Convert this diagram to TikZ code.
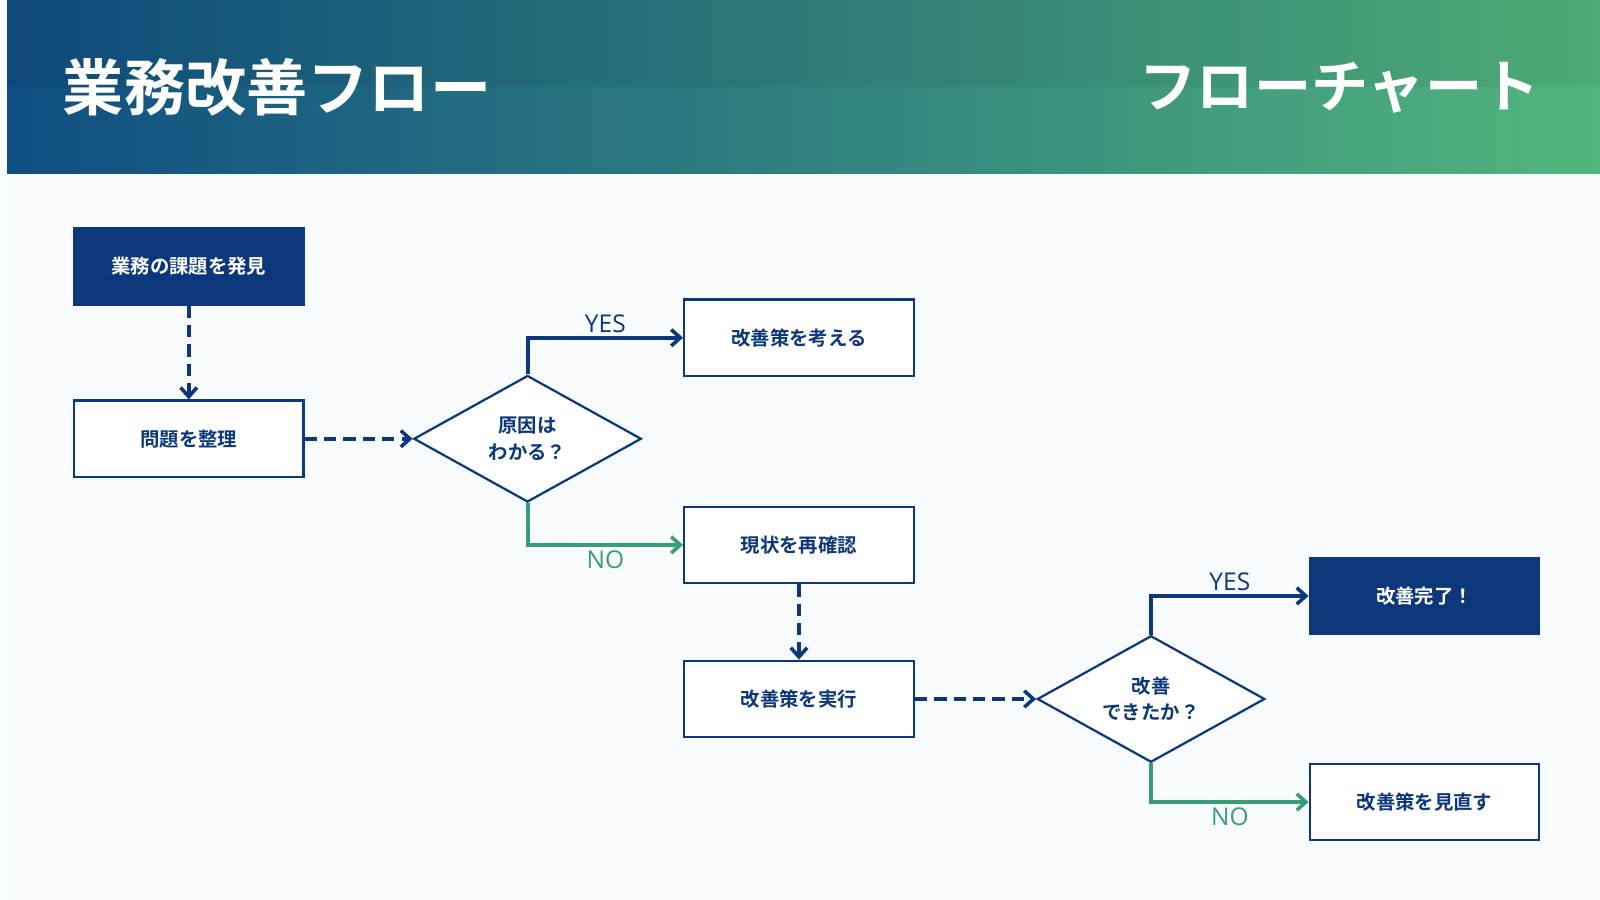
\documentclass[tikz,border=0pt]{standalone}
\usepackage{fontspec}
\setmainfont{Noto Sans CJK JP}[BoldFont={* Bold}]
\newfontfamily\lat{Open Sans}
\usetikzlibrary{arrows.meta}
\usetikzlibrary{positioning}
\usetikzlibrary{shapes.geometric}
\definecolor{navy}{HTML}{0C387B}
\definecolor{teal}{HTML}{3A9C76}
\definecolor{paper}{HTML}{F8FBFE}
\definecolor{hleft}{HTML}{0F4E82}
\definecolor{hright}{HTML}{52B57C}

\begin{document}
\begin{tikzpicture}[x=1pt, y=-1pt, node distance=150pt,
    box/.style={draw=navy, line width=2.2pt, fill=white, rectangle, minimum width=225pt, minimum height=75pt, font=\fontsize{19}{22}\selectfont\bfseries, text=navy},
    dark/.style={box, fill=navy, text=white},
    decide/.style={draw=navy, line width=2.2pt, fill=white, diamond, aspect=1.8, minimum width=223pt, minimum height=124pt, inner sep=0pt, align=center, font=\fontsize{19}{26}\selectfont\bfseries, text=navy},
    flow/.style={navy, line width=4pt, dash pattern=on 12pt off 7pt, -{Straight Barb[length=9pt,width=16pt,line width=3.5pt]}},
    yes/.style={navy, line width=4pt, -{Straight Barb[length=9pt,width=16pt,line width=3.5pt]}},
    no/.style={teal, line width=4pt, -{Straight Barb[length=9pt,width=16pt,line width=3.5pt]}},
    tag/.style={font=\lat\fontsize{24}{26}\selectfont}]

    % Background and header
    \useasboundingbox (0,0) rectangle (1568,882);
    \fill[white] (0,0) rectangle (1568,882);
    \fill[paper] (7,170) rectangle (1568,882);
    \shade[left color=hleft, right color=hright] (7,0) rectangle (1568,170);
    \fill[black, opacity=0.05] (7,0) rectangle (1568,85);
    \node[anchor=west, text=white, font=\fontsize{60}{64}\selectfont\bfseries] (title) at (58,86) {業務改善フロー};
    \node[anchor=east, text=white, font=\fontsize{56}{60}\selectfont\bfseries] (subtitle) at (1512,86) {フローチャート};

    % Nodes
    \node[dark] (find) at (185,261) {業務の課題を発見};
    \node[box, below of=find, node distance=169pt] (sort) {問題を整理};
    \node[decide, right of=sort, node distance=332pt] (cause) {原因は\\わかる？};
    \node[box] (think) at (783,331) {改善策を考える};
    \node[box] (check) at (783,534) {現状を再確認};
    \node[box, below of=check, node distance=151pt] (run) {改善策を実行};
    \node[decide, right of=run, node distance=345pt] (done) {改善\\できたか？};
    \node[dark] (finish) at (1396,584) {改善完了！};
    \node[box] (review) at (1396,786) {改善策を見直す};

    % Connections
    \draw[flow] (find) -- (sort);
    \draw[flow] (sort) -- (cause);
    \draw[yes] (cause.north) |- (think.west) node[pos=0.75, above, tag, text=navy] {YES};
    \draw[no] (cause.south) |- (check.west) node[pos=0.75, below, tag, text=teal] {NO};
    \draw[flow] (check) -- (run);
    \draw[flow] (run) -- (done);
    \draw[yes] (done.north) |- (finish.west) node[pos=0.75, above, tag, text=navy] {YES};
    \draw[no] (done.south) |- (review.west) node[pos=0.75, below, tag, text=teal] {NO};

\end{tikzpicture}
\end{document}
